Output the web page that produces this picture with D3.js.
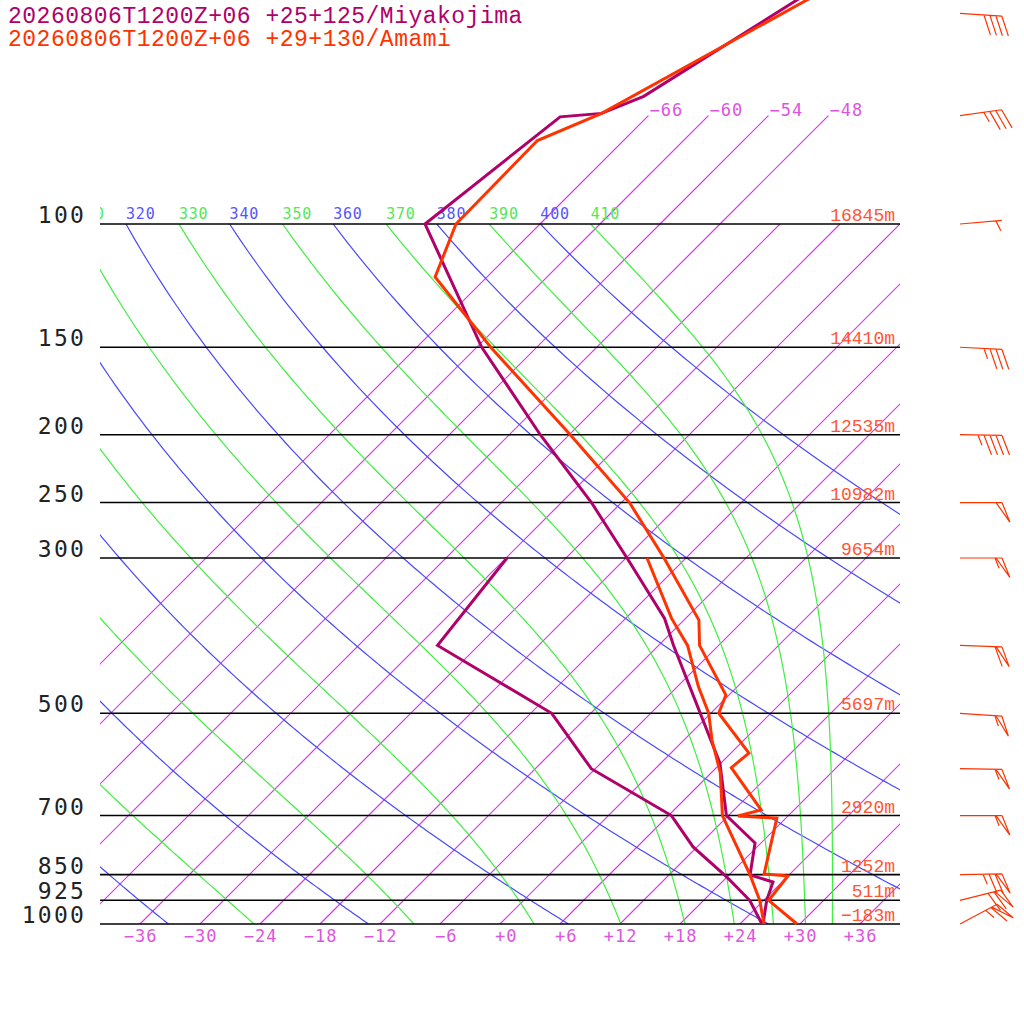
<!DOCTYPE html>
<html>
<head>
<meta charset="utf-8">
<script src="https://cdn.jsdelivr.net/npm/d3@7"></script>
<style>
  body { margin: 0; background: #fff; }
  svg { display: block; }
</style>
</head>
<body>
<div id="chart"></div>
<script>
// ---- data ----
const stationNames = ["20260806T1200Z+06 +25+125/Miyakojima", "20260806T1200Z+06 +29+130/Amami"];
const stationColors = ["#b0006a", "#ff3300"];

const isobars = [100, 150, 200, 250, 300, 500, 700, 850, 925, 1000];
const isobarHeights = ["16845m", "14410m", "12535m", "10982m", "9654m", "5697m", "2920m", "1252m", "511m", "\u2212183m"];

const isotherms = [-66, -60, -54, -48, -42, -36, -30, -24, -18, -12, -6, 0, 6, 12, 18, 24, 30, 36];
const isothermTicks = [-36, -30, -24, -18, -12, -6, 0, 6, 12, 18, 24, 30, 36];
const upperIsotherms = [-66, -60, -54, -48];
const dryAdiabats = [240, 260, 280, 300, 320, 340, 360, 380, 400];
const moistAdiabats = [250, 270, 290, 310, 330, 350, 370, 390, 410];

// Miyakojima
const miyaTempP = [1000, 925, 871, 851, 766, 700, 589, 400, 366, 300, 250, 200, 150, 100, 70.3, 69.5, 65.7, 45];
const miyaTempT = [26.3, 24.3, 23.1, 20.1, 17.4, 11.8, 5.9, -10.5, -14.1, -23.9, -33.0, -44.9, -59.5, -77.5, -74.7, -70.9, -68.4, -61.6];
const miyaDewP = [1000, 925, 857, 776, 700, 600, 500, 400, 300];
const miyaDewT = [26.2, 22.6, 18.0, 11.6, 6.3, -6.4, -15.9, -34.1, -35.9];

// Amami
const amamiTempP = [1000, 925, 854, 848, 706, 701, 687, 598, 570, 500, 471, 400, 368, 300, 250, 200, 150, 119, 100, 76, 69.5, 45];
const amamiTempT = [29.7, 24.5, 24.0, 21.4, 17.1, 13.0, 14.7, 7.5, 7.8, 0.8, -0.3, -7.9, -10.5, -20.2, -29.2, -41.9, -58.6, -71.2, -74.4, -74.6, -70.9, -60.2];
const amamiDewP = [1000, 925, 851, 700, 608, 546, 500, 458, 400, 366, 300];
const amamiDewT = [26.4, 23.6, 20.1, 11.4, 6.9, 2.8, -0.2, -3.9, -9.1, -13.4, -21.9];

// Amami winds (kt, deg)
const windP = [50, 70, 100, 150, 200, 250, 300, 400, 500, 600, 700, 850, 925, 1000];
const windSpd = [40, 35, 5, 35, 45, 50, 55, 60, 55, 55, 55, 75, 70, 65];
const windDir = [94, 82, 85, 93, 91, 90, 90, 92, 94, 91, 90, 89, 76, 62];

// ---- setup ----
const W = 1024, H = 1024;
const plotL = 100, plotR = 900, plotT = 224, plotB = 924;

const svg = d3.select('#chart').append('svg')
    .attr('width', W).attr('height', H);

const y = d3.scaleLog().domain([1000, 100]).range([plotB, plotT]);
const x = d3.scaleLinear().domain([-40, 40]).range([plotL, plotR]);
const skewX = (t, p) => x(t) + (plotB - y(p));

const defs = svg.append('defs');
defs.append('clipPath').attr('id', 'plot')
    .append('rect').attr('x', plotL).attr('y', plotT).attr('width', plotR - plotL).attr('height', plotB - plotT);
defs.append('clipPath').attr('id', 'lab')
    .append('rect').attr('x', plotL).attr('y', 190).attr('width', plotR - plotL).attr('height', 40);

const pLevels = d3.range(1000, 99, -5);

function dryT(theta, p) {
    return theta * Math.pow(p / 1000, 0.2857) - 273.15;
}

// Bolton theta-e of a saturated parcel
function thetaE(tc, p) {
    const tk = tc + 273.15;
    const es = 6.112 * Math.exp(17.67 * tc / (tc + 243.5));
    const r = 622 * es / (p - es);
    return tk * Math.pow(1000 / p, 0.2854 * (1 - 0.00028 * r)) *
        Math.exp((3.376 / tk - 0.00254) * r * (1 + 0.00081 * r));
}

function moistT(te, p) {
    let lo = -130, hi = 50;
    for (let i = 0; i < 60; i++) {
        const mid = (lo + hi) / 2;
        if (thetaE(mid, p) > te) hi = mid; else lo = mid;
    }
    return (lo + hi) / 2;
}

const line = d3.line().x(d => skewX(d[0], d[1])).y(d => y(d[1]));

const isoColor = 'rgb(214,56,232)';

// ---- background lines ----
const grid = svg.append('g').attr('clip-path', 'url(#plot)');

grid.selectAll('line.iso')
    .data(isotherms)
    .enter().append('line')
    .attr('class', 'iso')
    .attr('x1', t => skewX(t, 1000)).attr('y1', y(1000))
    .attr('x2', t => skewX(t, 100)).attr('y2', y(100))
    .attr('stroke', isoColor)
    .attr('stroke-width', 1.2);

grid.selectAll('path.dry')
    .data(dryAdiabats)
    .enter().append('path')
    .attr('class', 'dry')
    .attr('d', th => line(pLevels.map(p => [dryT(th, p), p])))
    .attr('fill', 'none')
    .attr('stroke', '#4848ff')
    .attr('stroke-width', 1.2);

grid.selectAll('path.moist')
    .data(moistAdiabats)
    .enter().append('path')
    .attr('class', 'moist')
    .attr('d', te => line(pLevels.map(p => [moistT(te, p), p])))
    .attr('fill', 'none')
    .attr('stroke', '#40ee40')
    .attr('stroke-width', 1.2);

// upper part of the coldest isotherms, with labels
svg.selectAll('line.isoUp')
    .data(upperIsotherms)
    .enter().append('line')
    .attr('class', 'isoUp')
    .attr('x1', t => skewX(t, 100)).attr('y1', y(100))
    .attr('x2', t => skewX(t, 70)).attr('y2', y(70))
    .attr('stroke', isoColor)
    .attr('stroke-width', 1.2);

svg.selectAll('text.isoUpLab')
    .data(upperIsotherms)
    .enter().append('text')
    .attr('class', 'isoUpLab')
    .attr('x', t => skewX(t, 70) + 1)
    .attr('y', y(70))
    .attr('fill', '#dd55dd')
    .attr('font-family', 'DejaVu Sans Mono')
    .attr('font-size', '17px')
    .attr('letter-spacing', '1px')
    .text(t => '\u2212' + Math.abs(t));

// theta labels along 100 hPa (only those that reach the plot)
const thetaLabels = dryAdiabats.map(th => ({ v: th, t: dryT(th, 100), c: '#5555ff' }))
    .concat(moistAdiabats.map(te => ({ v: te, t: moistT(te, 100), c: '#55e655' })))
    .filter(d => skewX(d.t, 100) > plotL - 30);

svg.append('g').attr('clip-path', 'url(#lab)')
    .selectAll('text')
    .data(thetaLabels)
    .enter().append('text')
    .attr('x', d => skewX(d.t, 100))
    .attr('y', plotT - 5)
    .attr('fill', d => d.c)
    .attr('font-family', 'DejaVu Sans Mono')
    .attr('font-size', '15px')
    .attr('letter-spacing', '0.8px')
    .text(d => d.v);

// isobars
svg.selectAll('line.isobar')
    .data(isobars)
    .enter().append('line')
    .attr('class', 'isobar')
    .attr('x1', plotL).attr('x2', plotR)
    .attr('y1', p => y(p)).attr('y2', p => y(p))
    .attr('stroke', '#000')
    .attr('stroke-width', 1.6);

svg.selectAll('text.plab')
    .data(isobars)
    .enter().append('text')
    .attr('class', 'plab')
    .attr('x', 86)
    .attr('y', p => y(p) - 1)
    .attr('text-anchor', 'end')
    .attr('fill', '#222')
    .attr('font-family', 'DejaVu Sans Mono')
    .attr('font-size', '23px')
    .attr('letter-spacing', '2.2px')
    .text(p => p);

svg.selectAll('text.hlab')
    .data(isobars)
    .enter().append('text')
    .attr('class', 'hlab')
    .attr('x', 895)
    .attr('y', p => y(p) - 3)
    .attr('text-anchor', 'end')
    .attr('fill', '#ff5533')
    .attr('font-family', 'Liberation Mono')
    .attr('font-size', '18px')
    .text((p, i) => isobarHeights[i]);

// temperature axis
const axis = svg.append('g')
    .attr('transform', `translate(0,${plotB})`)
    .call(d3.axisBottom(x)
        .tickValues(isothermTicks)
        .tickSize(0)
        .tickFormat(t => (t < 0 ? '\u2212' : '+') + Math.abs(t)));
axis.select('.domain').remove();
axis.selectAll('text')
    .attr('y', 18)
    .attr('dy', 0)
    .attr('dx', 17)
    .attr('text-anchor', 'end')
    .attr('fill', '#dd55dd')
    .attr('font-family', 'DejaVu Sans Mono')
    .attr('font-size', '17px')
    .attr('letter-spacing', '1px');

// ---- profiles ----
function profile(ps, ts, color) {
    svg.append('path')
        .datum(ps.map((p, i) => [ts[i], p]))
        .attr('d', line)
        .attr('fill', 'none')
        .attr('stroke', color)
        .attr('stroke-width', 3)
        .attr('stroke-linejoin', 'miter');
}

profile(miyaDewP, miyaDewT, stationColors[0]);
profile(miyaTempP, miyaTempT, stationColors[0]);
profile(amamiDewP, amamiDewT, stationColors[1]);
profile(amamiTempP, amamiTempT, stationColors[1]);

// ---- wind barbs ----
function barbPath(cx, cy, spd, dir) {
    const L = 42, full = 21, half = 11, gap = 6, flagW = 6;
    const rad = dir * Math.PI / 180;
    const ux = Math.sin(rad), uy = -Math.cos(rad);
    const a = 68 * Math.PI / 180;
    const fx = ux * Math.cos(a) - uy * Math.sin(a);
    const fy = ux * Math.sin(a) + uy * Math.cos(a);
    const tx = cx + ux * L, ty = cy + uy * L;
    const path = d3.path();
    path.moveTo(cx, cy);
    path.lineTo(tx, ty);

    let s = Math.round(spd / 5) * 5;
    const nFlag = Math.floor(s / 50); s -= nFlag * 50;
    const nFull = Math.floor(s / 10); s -= nFull * 10;
    const nHalf = s >= 5 ? 1 : 0;
    let off = 0;
    for (let i = 0; i < nFlag; i++) {
        const bx = tx - ux * off, by = ty - uy * off;
        path.moveTo(bx, by);
        path.lineTo(bx + fx * full, by + fy * full);
        path.lineTo(bx - ux * flagW, by - uy * flagW);
        off += flagW + 1;
    }
    for (let i = 0; i < nFull; i++) {
        const bx = tx - ux * off, by = ty - uy * off;
        path.moveTo(bx, by);
        path.lineTo(bx + fx * full, by + fy * full);
        off += gap;
    }
    if (nHalf) {
        if (nFlag + nFull === 0) off = gap;
        const bx = tx - ux * off, by = ty - uy * off;
        path.moveTo(bx, by);
        path.lineTo(bx + fx * half, by + fy * half);
    }
    return path.toString();
}

svg.selectAll('path.barb')
    .data(windP)
    .enter().append('path')
    .attr('class', 'barb')
    .attr('d', (p, i) => barbPath(960, y(p), windSpd[i], windDir[i]))
    .attr('fill', 'none')
    .attr('stroke', stationColors[1])
    .attr('stroke-width', 1.2);

// ---- titles ----
svg.selectAll('text.title')
    .data(stationNames)
    .enter().append('text')
    .attr('class', 'title')
    .attr('x', 8)
    .attr('y', (d, i) => 23 + i * 23)
    .attr('fill', (d, i) => stationColors[i])
    .attr('font-family', 'Liberation Mono')
    .attr('font-size', '23px')
    .attr('letter-spacing', '0.5px')
    .text(d => d);
</script>
</body>
</html>
